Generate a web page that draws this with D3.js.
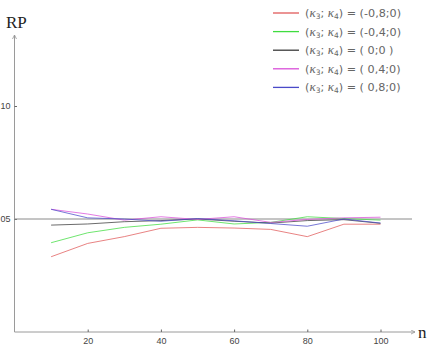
<!DOCTYPE html>
<html>
<head>
<meta charset="utf-8">
<script src="https://cdn.jsdelivr.net/npm/d3@7"></script>
<style>
  body { margin: 0; background: #fff; }
  svg { display: block; }
</style>
</head>
<body>
<svg id="chart" width="429" height="358"></svg>
<script>
// values
const nValues = [10, 20, 30, 40, 50, 60, 70, 80, 90, 100];
const redVals = [0.0333, 0.0392, 0.0422, 0.0459, 0.0463, 0.0460, 0.0454, 0.0422, 0.0477, 0.0477];
const greenVals = [0.0395, 0.0439, 0.0463, 0.0477, 0.0496, 0.0478, 0.0485, 0.0510, 0.0502, 0.0495];
const blackVals = [0.0473, 0.0478, 0.0488, 0.0493, 0.0500, 0.0490, 0.0482, 0.0493, 0.0497, 0.0481];
const magentaVals = [0.0543, 0.0522, 0.0495, 0.0510, 0.0498, 0.0510, 0.0485, 0.0498, 0.0505, 0.0508];
const blueVals = [0.0543, 0.0505, 0.0500, 0.0490, 0.0502, 0.0492, 0.0480, 0.0468, 0.0500, 0.0482];
const legendLabels = ['-0,8;0', '-0,4;0', ' 0;0 ', ' 0,4;0', ' 0,8;0'];
const xTicks = [20, 40, 60, 80, 100];
const yTicks = [0.05, 0.10];
const yTickLabels = ['05', '10']; // the picture only shows the last two digits
const refLevel = 0.05;

const series = [
  { vals: redVals, color: '#e05a5a', label: legendLabels[0] },
  { vals: greenVals, color: '#3fdc3f', label: legendLabels[1] },
  { vals: blackVals, color: '#3a3a3a', label: legendLabels[2] },
  { vals: magentaVals, color: '#d94fd9', label: legendLabels[3] },
  { vals: blueVals, color: '#4a4ac8', label: legendLabels[4] }
];

const svg = d3.select('#chart');
const x = d3.scaleLinear().domain([0, 100]).range([14.5, 380.5]);
const y = d3.scaleLinear().domain([0, 0.10]).range([332, 106]);
const axisColor = '#9a9a9a';

// arrow marker
const defs = svg.append('defs');
defs.append('marker')
  .attr('id', 'arrow')
  .attr('viewBox', '0 0 6 6')
  .attr('refX', 5).attr('refY', 3)
  .attr('markerWidth', 5).attr('markerHeight', 5)
  .attr('orient', 'auto')
  .append('path')
  .attr('d', 'M0,0.5 L5,3 L0,5.5')
  .attr('fill', 'none')
  .attr('stroke', axisColor)
  .attr('stroke-width', 1);

// axes lines
svg.append('line')
  .attr('x1', x(0)).attr('y1', y(0))
  .attr('x2', 415).attr('y2', y(0))
  .attr('stroke', axisColor).attr('stroke-width', 1)
  .attr('marker-end', 'url(#arrow)');
svg.append('line')
  .attr('x1', x(0)).attr('y1', y(0))
  .attr('x2', x(0)).attr('y2', 35)
  .attr('stroke', axisColor).attr('stroke-width', 1)
  .attr('marker-end', 'url(#arrow)');

// x ticks
const xAxis = d3.axisBottom(x).tickValues(xTicks).tickSize(0).tickPadding(6);
const gx = svg.append('g').attr('transform', `translate(0,${y(0)})`).call(xAxis);
gx.select('.domain').remove();
gx.selectAll('text').attr('font-family', 'Liberation Sans, Arial, sans-serif').attr('font-size', 9).attr('fill', '#444');
gx.selectAll('.tick').append('line').attr('y1', 0).attr('y2', -2.5).attr('stroke', '#666');

// y ticks
const yAxis = d3.axisLeft(y).tickValues(yTicks).tickSize(0).tickPadding(4)
  .tickFormat((d, i) => yTickLabels[i]);
const gy = svg.append('g').attr('transform', `translate(${x(0)},0)`).call(yAxis);
gy.select('.domain').remove();
gy.selectAll('text').attr('font-family', 'Liberation Sans, Arial, sans-serif').attr('font-size', 9).attr('fill', '#444');
gy.selectAll('.tick').append('line').attr('x1', 0).attr('x2', 2.5).attr('stroke', '#666');

// reference line at 0.05
svg.append('line')
  .attr('x1', x(0)).attr('x2', 412)
  .attr('y1', y(refLevel)).attr('y2', y(refLevel))
  .attr('stroke', '#8a8a8a').attr('stroke-width', 1);

// series
const line = d3.line().x((d, i) => x(nValues[i])).y(d => y(d));
series.forEach(s => {
  svg.append('path')
    .datum(s.vals)
    .attr('fill', 'none')
    .attr('stroke', s.color)
    .attr('stroke-opacity', 0.75)
    .attr('stroke-width', 1)
    .attr('d', line);
});

// axis titles
svg.append('text').attr('x', 6).attr('y', 28)
  .attr('font-family', 'Liberation Serif, Times New Roman, serif')
  .attr('font-size', 17).attr('fill', '#222').text('RP');
svg.append('text').attr('x', 418).attr('y', 338)
  .attr('font-family', 'Liberation Serif, Times New Roman, serif')
  .attr('font-size', 17).attr('fill', '#222').text('n');

// legend
const lg = svg.append('g');
series.forEach((s, i) => {
  const ly = 13 + i * 18.6;
  lg.append('line')
    .attr('x1', 273).attr('x2', 299)
    .attr('y1', ly).attr('y2', ly)
    .attr('stroke', s.color).attr('stroke-width', 1.3);
  const t = lg.append('text')
    .attr('x', 305).attr('y', ly + 4)
    .attr('font-family', 'DejaVu Sans, sans-serif')
    .attr('font-size', 11.2).attr('fill', '#666')
    .attr('xml:space', 'preserve');
  t.append('tspan').text('(');
  t.append('tspan').attr('font-family', 'Liberation Serif, serif').attr('font-style', 'italic').attr('font-size', 13).text('κ');
  t.append('tspan').attr('font-size', 7.5).attr('dy', 2).text('3');
  t.append('tspan').attr('dy', -2).text('; ');
  t.append('tspan').attr('font-family', 'Liberation Serif, serif').attr('font-style', 'italic').attr('font-size', 13).text('κ');
  t.append('tspan').attr('font-size', 7.5).attr('dy', 2).text('4');
  t.append('tspan').attr('dy', -2).text(') = (' + s.label + ')');
});
</script>
</body>
</html>
